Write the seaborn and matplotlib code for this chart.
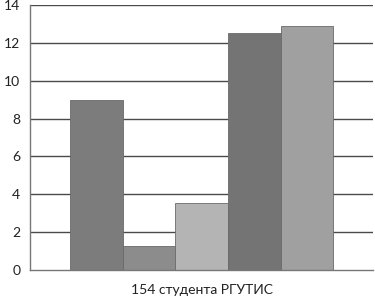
import matplotlib

matplotlib.use("Agg")
import matplotlib.pyplot as plt
import pandas as pd
import seaborn as sns

CATEGORY = "154 студента РГУТИС"
SERIES = ["1", "2", "3", "4", "5"]
VALUES = [9.0, 1.25, 3.55, 12.5, 12.9]
COLORS = ["#7c7c7c", "#8c8c8c", "#b4b4b4", "#747474", "#a0a0a0"]
Y_TICKS = [0, 2, 4, 6, 8, 10, 12, 14]

df = pd.DataFrame({"group": [CATEGORY] * len(SERIES), "series": SERIES, "value": VALUES})

sns.set_theme(style="white")
plt.rcParams["font.family"] = ["Lato", "DejaVu Sans"]

fig = plt.figure(figsize=(3.75, 3.0), dpi=100)
ax = fig.add_axes([0.08, 0.1, 0.915, 0.883])

ax.set_axisbelow(True)
for y in Y_TICKS[1:]:
    ax.axhline(y, color="#4a4a4a", linewidth=1.0, zorder=0)

sns.barplot(
    data=df,
    x="group",
    y="value",
    hue="series",
    palette=COLORS,
    width=0.767,
    gap=0,
    legend=False,
    saturation=1,
    edgecolor="#6a6a6a",
    linewidth=0.6,
    ax=ax,
)

ax.set_ylim(0, 14)
ax.set_xlim(-0.5, 0.5)
ax.set_yticks(Y_TICKS)
ax.set_xticks([-0.5, 0.5], minor=True)
ax.tick_params(axis="x", which="minor", length=4, width=0.8, color="#777777", direction="out")
ax.tick_params(axis="x", which="major", length=0, labelsize=10, pad=10, colors="#222222")
ax.tick_params(axis="y", length=5, width=0.8, color="#555555", direction="out", labelsize=10, pad=2, colors="#222222")
ax.set_xlabel("")
ax.set_ylabel("")

for side in ["top", "right"]:
    ax.spines[side].set_visible(False)
ax.spines["left"].set_color("#777777")
ax.spines["bottom"].set_color("#777777")
ax.spines["left"].set_linewidth(1.0)
ax.spines["bottom"].set_linewidth(1.0)

fig.savefig("out.png", dpi=100)
plt.close(fig)
